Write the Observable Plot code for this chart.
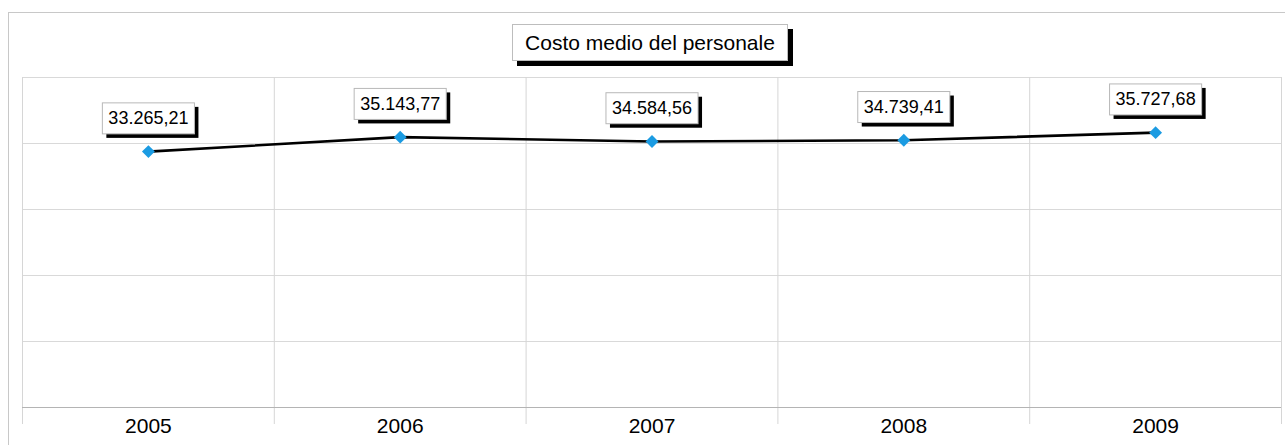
<!DOCTYPE html>
<html>
<head>
<meta charset="utf-8">
<script src="https://cdn.jsdelivr.net/npm/d3@7"></script>
<script src="https://cdn.jsdelivr.net/npm/@observablehq/plot@0.6"></script>
<style>
  html, body { margin: 0; padding: 0; background: #fff; }
  #wrap { position: relative; width: 1285px; height: 445px; overflow: hidden; font-family: "Liberation Sans", Arial, sans-serif; }
  #frame { position: absolute; left: 8px; top: 12px; width: 1300px; height: 500px; border-top: 1px solid #c8c8c8; border-left: 1px solid #c8c8c8; }
  #title { position: absolute; left: 512px; top: 24px; width: 274px; height: 35px; border: 1px solid #bdbdbd; background: #fff;
           box-shadow: 5px 5px 0 #000; font-size: 21px; line-height: 35px; text-align: center; color: #000; box-sizing: content-box; white-space: nowrap; }
  #chart { position: absolute; left: 0; top: 0; }
</style>
</head>
<body>
<div id="wrap">
  <div id="frame"></div>
  <div id="chart"></div>
  <div id="title">Costo medio del personale</div>
</div>
<script>
const years = [2005, 2006, 2007, 2008, 2009];
const values = [33265.21, 35143.77, 34584.56, 34739.41, 35727.68];
const yMax = 42900;

const data = years.map((y, i) => ({year: y, value: values[i]}));
const it = d3.formatLocale({decimal: ",", thousands: ".", grouping: [3], currency: ["€", ""]});
const fmt = it.format(",.2f");
const labelSet = new Set(values.map(fmt));

const bounds = d3.range(years.length + 1).map(i => years[0] - 0.5 + i);
const hGrid = d3.range(6).map(i => i * yMax / 5);

const chart = Plot.plot({
  width: 1285,
  height: 445,
  marginLeft: 22,
  marginRight: 4,
  marginTop: 77,
  marginBottom: 38,
  style: {fontFamily: "Liberation Sans, Arial, sans-serif", background: "transparent"},
  x: {domain: [years[0] - 0.5, years[years.length - 1] + 0.5]},
  y: {domain: [0, yMax]},
  marks: [
    Plot.ruleY(hGrid.slice(1), {stroke: "#d9d9d9", strokeWidth: 1}),
    Plot.ruleX(bounds, {stroke: "#d6d6d6", strokeWidth: 1, insetBottom: -17}),
    Plot.ruleY([0], {stroke: "#b4b4b4", strokeWidth: 1}),
    Plot.axisX({ticks: years, tickFormat: d => String(d), tickSize: 0, tickPadding: 11, fontSize: 21, color: "#000", label: null}),
    Plot.axisY({ticks: [], label: null}),
    Plot.line(data, {x: "year", y: "value", stroke: "#000", strokeWidth: 2.6}),
    Plot.dot(data, {x: "year", y: "value", symbol: "diamond2", r: 5.8, fill: "#1b9be2", stroke: "none"}),
    Plot.text(data, {x: "year", y: "value", text: d => fmt(d.value), dy: -33, fontSize: 18, fill: "#000"})
  ]
});
document.getElementById("chart").appendChild(chart);

// boxes with drop shadow behind value labels
const ns = "http://www.w3.org/2000/svg";
Array.from(chart.querySelectorAll("text")).filter(t => labelSet.has(t.textContent.trim())).forEach(t => {
  const b = t.getBBox();
  const padX = 6, padY = 5.5;
  const g = t.parentNode;
  const x = b.x - padX, y = b.y - padY, w = b.width + 2 * padX, h = b.height + 2 * padY;
  const tr = t.getAttribute("transform");
  const shadow = document.createElementNS(ns, "rect");
  shadow.setAttribute("x", x + 4); shadow.setAttribute("y", y + 4);
  shadow.setAttribute("width", w); shadow.setAttribute("height", h);
  shadow.setAttribute("fill", "#000"); shadow.setAttribute("stroke", "none");
  const box = document.createElementNS(ns, "rect");
  box.setAttribute("x", x); box.setAttribute("y", y);
  box.setAttribute("width", w); box.setAttribute("height", h);
  box.setAttribute("fill", "#fff"); box.setAttribute("stroke", "#b8b8b8"); box.setAttribute("stroke-width", 1);
  if (tr) { shadow.setAttribute("transform", tr); box.setAttribute("transform", tr); }
  g.insertBefore(shadow, t);
  g.insertBefore(box, t);
});
</script>
</body>
</html>
